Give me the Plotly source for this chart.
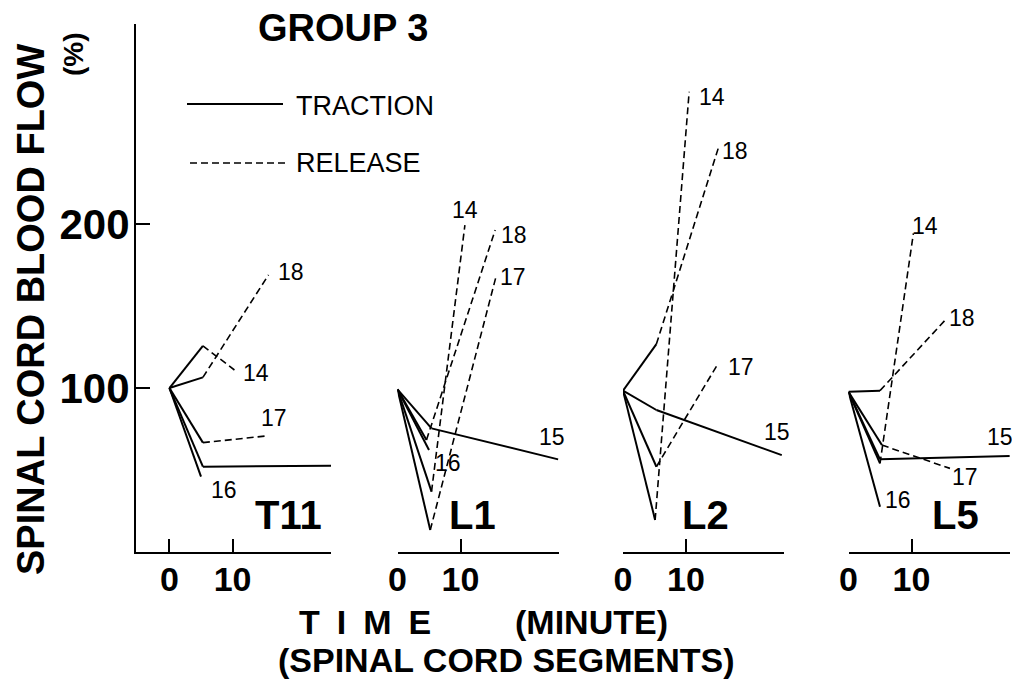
import plotly.graph_objects as go

# ---------------- data ----------------
PANELS = ["T11", "L1", "L2", "L5"]

T11_subjects = ["14", "18", "17", "15", "16"]
T11_start_y = 100.0
T11_trac_t = [5.3, 5.3, 5.3, 5.3, 5.0]
T11_trac_y = [125.7, 106.5, 66.7, 52.0, 46.0]
T11_next_t = [10.3, 15.7, 15.7, 25.7, None]
T11_next_y = [111.0, 169.0, 70.9, 52.6, None]
T11_next_phase = ["release", "release", "release", "traction", None]

L1_subjects = ["14", "18", "17", "15", "16"]
L1_start_y = 99.2
L1_trac_t = [5.4, 4.6, 5.2, 5.4, 5.0]
L1_trac_y = [36.8, 68.3, 13.4, 75.4, 62.2]
L1_next_t = [10.7, 15.5, 15.7, 25.5, None]
L1_next_y = [199.4, 196.3, 168.9, 56.5, None]
L1_next_phase = ["release", "release", "release", "traction", None]

L2_subjects = ["14", "18", "17", "15"]
L2_start_y = 98.4
L2_trac_t = [5.1, 5.3, 5.3, 5.3]
L2_trac_y = [19.5, 126.8, 52.0, 86.6]
L2_next_t = [10.5, 15.1, 15.1, 25.2]
L2_next_y = [280.7, 246.0, 115.0, 59.1]
L2_next_phase = ["release", "release", "release", "traction"]

L5_subjects = ["14", "18", "17", "15", "16"]
L5_start_y = 97.7
L5_trac_t = [5.0, 5.0, 5.3, 5.0, 5.0]
L5_trac_y = [54.0, 98.4, 65.2, 56.5, 27.6]
L5_next_t = [10.3, 15.6, 16.1, 25.6, None]
L5_next_y = [194.3, 142.5, 51.0, 58.5, None]
L5_next_phase = ["release", "release", "release", "traction", None]

X_TICKS = [0, 10]
X_TICK_TEXT = ["0", "10"]
Y_TICKS = [100, 200]
Y_TICK_TEXT = ["100", "200"]

# ---------------- layout / styling ----------------
W, H = 1020, 681
OFF = 8  # the page body margin offsets the figure by 8 px
def fx(px): return (px - OFF) / W
def fy(py): return 1 - (py - OFF) / H

FONT = "Liberation Sans, Arial, Helvetica, sans-serif"

panel_data = {
    "T11": (T11_subjects, T11_start_y, T11_trac_t, T11_trac_y, T11_next_t, T11_next_y, T11_next_phase),
    "L1": (L1_subjects, L1_start_y, L1_trac_t, L1_trac_y, L1_next_t, L1_next_y, L1_next_phase),
    "L2": (L2_subjects, L2_start_y, L2_trac_t, L2_trac_y, L2_next_t, L2_next_y, L2_next_phase),
    "L5": (L5_subjects, L5_start_y, L5_trac_t, L5_trac_y, L5_next_t, L5_next_y, L5_next_phase),
}

axis_ids = {"T11": "x", "L1": "x2", "L2": "x3", "L5": "x4"}
axis_keys = {"T11": "xaxis", "L1": "xaxis2", "L2": "xaxis3", "L5": "xaxis4"}
x_domains_px = {"T11": (136, 331), "L1": (397.5, 558.8), "L2": (623, 784.3), "L5": (848.5, 1009.8)}
x_ranges = {"T11": [-5.3, 25.6], "L1": [0, 25.6], "L2": [0, 25.6], "L5": [0, 25.6]}
panel_label_pos = {"T11": (288, 515), "L1": (472, 515), "L2": (705, 515), "L5": (955, 515)}

# pixel offsets of the subject numbers from the end of each curve
label_offsets = {
    "T11": {"18": (22, -3), "14": (22, 3), "17": (5, -18), "15": (-12, -13), "16": (23, 13)},
    "L1": {"14": (0, -15), "18": (19, 5), "17": (17, 2), "15": (-6, -22), "16": (19, 13)},
    "L2": {"14": (23, 5), "18": (17, 2), "17": (23, 4), "15": (-5, -23)},
    "L5": {"14": (12, -7), "18": (15, 0), "15": (-10, -19), "17": (15, 9), "16": (18, -7)},
}

SOLID = dict(color="black", width=2)
DASHED = dict(color="black", width=1.6, dash="7px,4px")

fig = go.Figure()
annotations = []

for p in PANELS:
    subj, y0, tt, ty, nt, ny, ph = panel_data[p]
    xa = axis_ids[p]
    for i, s in enumerate(subj):
        fig.add_trace(go.Scatter(x=[0, tt[i]], y=[y0, ty[i]], mode="lines", line=SOLID,
                                 xaxis=xa, yaxis="y", showlegend=False, cliponaxis=False,
                                 hoverinfo="skip"))
        if nt[i] is not None:
            fig.add_trace(go.Scatter(x=[tt[i], nt[i]], y=[ty[i], ny[i]], mode="lines",
                                     line=DASHED if ph[i] == "release" else SOLID,
                                     xaxis=xa, yaxis="y", showlegend=False, cliponaxis=False,
                                     hoverinfo="skip"))
            ex, ey = nt[i], ny[i]
        else:
            ex, ey = tt[i], ty[i]
        dx, dy = label_offsets[p][s]
        annotations.append(dict(x=ex, y=ey, xref=xa, yref="y", text=s, showarrow=False,
                                xshift=dx, yshift=-dy, xanchor="center", yanchor="middle",
                                font=dict(family=FONT, size=23, color="black")))
    lx, ly = panel_label_pos[p]
    annotations.append(dict(x=fx(lx), y=fy(ly), xref="paper", yref="paper", text=p,
                            showarrow=False, xanchor="center", yanchor="middle",
                            font=dict(family=FONT, size=40, color="black", weight="bold")))

# titles and legend text
def add_text(text, px, py, size, bold=False, angle=0):
    annotations.append(dict(x=fx(px), y=fy(py), xref="paper", yref="paper", text=text,
                            showarrow=False, xanchor="center", yanchor="middle", textangle=angle,
                            font=dict(family=FONT, size=size, color="black",
                                      weight="bold" if bold else "normal")))

add_text("GROUP 3", 343, 28, 38, bold=True)
add_text("SPINAL CORD BLOOD FLOW", 31, 310, 38, bold=True, angle=-90)
add_text("(%)", 74, 54, 28, bold=True, angle=-90)
add_text("T\u2002I\u2002M\u2002E", 365, 622, 34, bold=True)
add_text("(MINUTE)", 591, 622, 34, bold=True)
add_text("(SPINAL CORD SEGMENTS)", 506, 660, 34, bold=True)

annotations.append(dict(x=fx(294), y=fy(106), xref="paper", yref="paper", text="TRACTION",
                        showarrow=False, xanchor="left", yanchor="middle",
                        font=dict(family=FONT, size=27, color="black")))
annotations.append(dict(x=fx(294), y=fy(163), xref="paper", yref="paper", text="RELEASE",
                        showarrow=False, xanchor="left", yanchor="middle",
                        font=dict(family=FONT, size=27, color="black")))

shapes = [
    dict(type="line", xref="paper", yref="paper", x0=fx(187), x1=fx(283), y0=fy(104), y1=fy(104),
         line=dict(color="black", width=2)),
    dict(type="line", xref="paper", yref="paper", x0=fx(190), x1=fx(285), y0=fy(163), y1=fy(163),
         line=dict(color="black", width=1.6, dash="7px,4px")),
]

layout = dict(
    width=W, height=H,
    margin=dict(l=0, r=0, t=0, b=0, autoexpand=False),
    paper_bgcolor="white", plot_bgcolor="white",
    showlegend=False,
    annotations=annotations,
    shapes=shapes,
    yaxis=dict(domain=[fy(552), fy(24)], range=[0, 322], anchor="x", automargin=False,
               showline=True, linecolor="black", linewidth=2,
               ticks="inside", ticklen=14, tickwidth=2, tickcolor="black",
               tickvals=Y_TICKS, ticktext=Y_TICK_TEXT, ticklabelstandoff=-4,
               tickfont=dict(family=FONT, size=42, color="black", weight="bold"),
               showgrid=False, zeroline=False, fixedrange=True),
)

for p in PANELS:
    d0, d1 = x_domains_px[p]
    layout[axis_keys[p]] = dict(
        domain=[fx(d0), fx(d1)], range=x_ranges[p], anchor="y", automargin=False,
        showline=True, linecolor="black", linewidth=2,
        ticks="inside", ticklen=13, tickwidth=2, tickcolor="black",
        tickvals=X_TICKS, ticktext=X_TICK_TEXT, ticklabelstandoff=-4,
        tickfont=dict(family=FONT, size=34, color="black", weight="bold"),
        showgrid=False, zeroline=False, fixedrange=True)

fig.update_layout(**layout)
fig.write_html("out.html")
